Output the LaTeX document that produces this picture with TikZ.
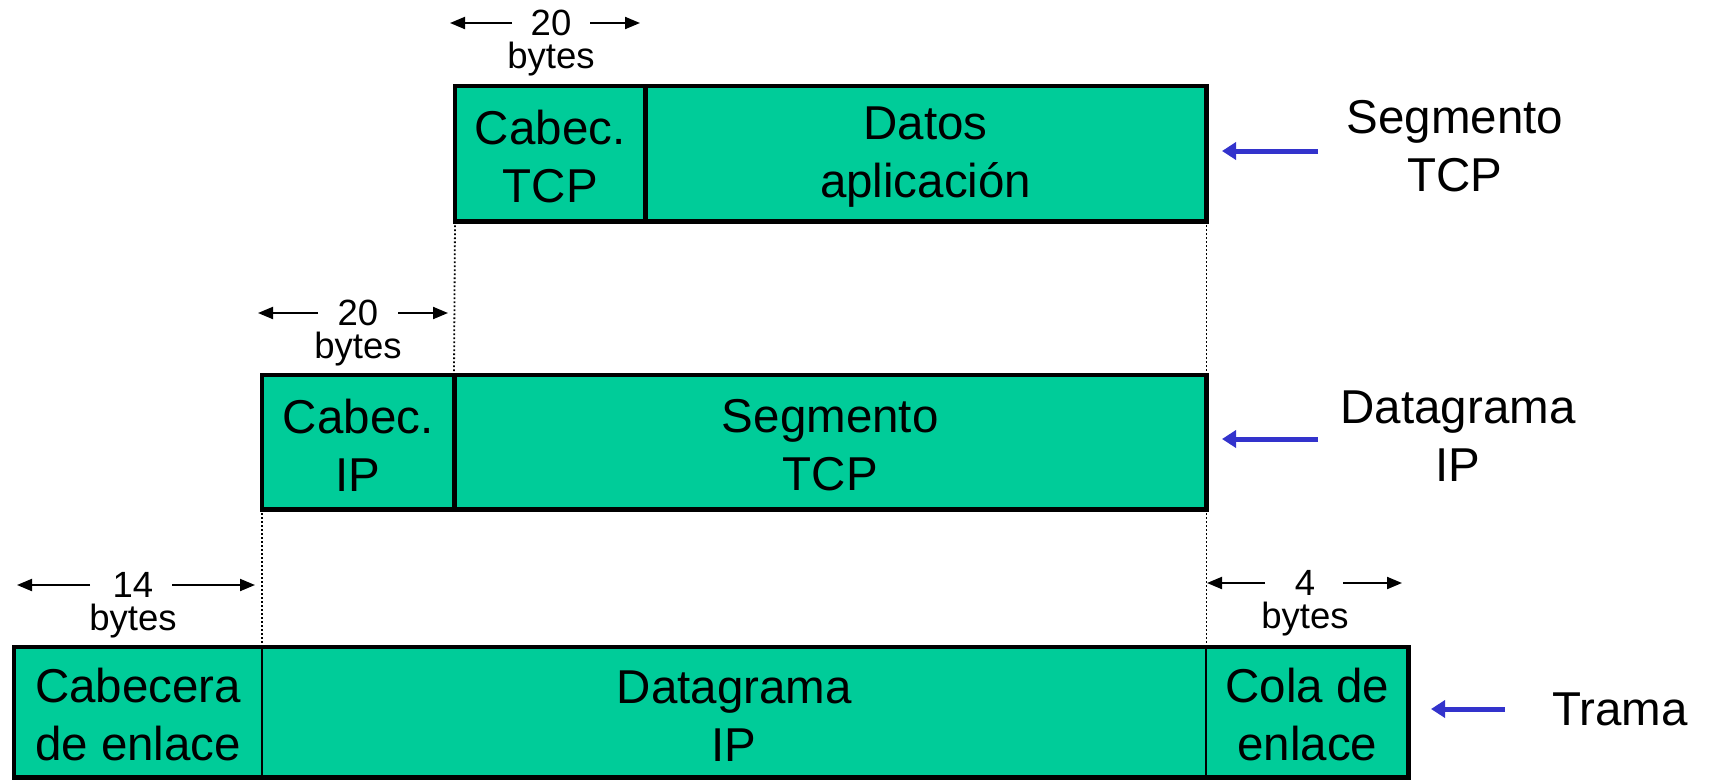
\documentclass[tikz,border=0pt]{standalone}
\usepackage{fontspec}
\setmainfont{Liberation Sans}
\usetikzlibrary{arrows.meta}
\definecolor{cellgreen}{RGB}{0,204,153}
\definecolor{arrowblue}{RGB}{51,51,204}
\newcommand\bigtxt{\fontsize{47.5pt}{58pt}\selectfont}
\newcommand\smalltxt{\fontsize{36.5pt}{33pt}\selectfont}
\newcommand\toplift{\rule{0pt}{40pt}}
\begin{document}
\begin{tikzpicture}[x=1pt,y=-1pt,
  cell/.style={fill=cellgreen, inner sep=0pt, anchor=north west, align=center, font=\bigtxt},
  border/.style={line width=4.5pt},
  thindiv/.style={line width=2pt},
  guide/.style={line width=1.8pt, dash pattern=on 1.8pt off 2.2pt},
  dimarrow/.style={line width=2pt, -{Triangle[length=15pt,width=12pt]}},
  bluearrow/.style={arrowblue, line width=5pt, -{Triangle[length=14pt,width=17pt]}},
  dimlabel/.style={font=\smalltxt, align=center, inner sep=0pt},
  sidelabel/.style={font=\bigtxt, align=center, inner sep=0pt}]
\useasboundingbox (0,0) rectangle (1712,780);

% cells
\node[cell, minimum width=190pt, minimum height=135pt] (tcph) at (455,86) {\toplift Cabec.\\TCP};
\node[cell, minimum width=561pt, minimum height=135pt] (tcpd) at (645,86) {\toplift Datos\\aplicaci\smash{ó}n};
\node[cell, minimum width=192pt, minimum height=134pt] (iph) at (262,375) {\toplift Cabec.\\IP};
\node[cell, minimum width=752pt, minimum height=134pt] (ipd) at (454,375) {\toplift Segmento\\TCP};
\node[cell, minimum width=248pt, minimum height=130pt] (fh) at (14,647) {\toplift Cabecera\\de enlace};
\node[cell, minimum width=944pt, minimum height=130pt] (fd) at (262,647) {\toplift Datagrama\\IP};
\node[cell, minimum width=202pt, minimum height=130pt] (ft) at (1206,647) {\toplift Cola de\\enlace};

% dotted guides
\draw[guide] (tcph.south west) -- (ipd.north west);
\draw[guide] (tcpd.south east) -- (ipd.north east);
\draw[guide] (iph.south west) -- (fd.north west);
\draw[guide] (ipd.south east) -- (fd.north east);

% borders
\draw[border] (tcph.north west) rectangle (tcpd.south east);
\draw[border] (tcph.north east) -- (tcph.south east);
\draw[border] (iph.north west) rectangle (ipd.south east);
\draw[border] (iph.north east) -- (iph.south east);
\draw[border] (fh.north west) rectangle (ft.south east);
\draw[thindiv] (fh.north east) -- (fh.south east);
\draw[thindiv] (fd.north east) -- (fd.south east);

% dimension labels
\node[dimlabel] (d1) at (551,43) {20\\bytes};
\coordinate (d1la) at (512,23); \coordinate (d1lb) at (450,23);
\coordinate (d1ra) at (590,23); \coordinate (d1rb) at (640,23);
\draw[dimarrow] (d1la) -- (d1lb);
\draw[dimarrow] (d1ra) -- (d1rb);

\node[dimlabel] (d2) at (358,333) {20\\bytes};
\coordinate (d2la) at (318,313); \coordinate (d2lb) at (258,313);
\coordinate (d2ra) at (398,313); \coordinate (d2rb) at (448,313);
\draw[dimarrow] (d2la) -- (d2lb);
\draw[dimarrow] (d2ra) -- (d2rb);

\node[dimlabel] (d3) at (133,605) {14\\bytes};
\coordinate (d3la) at (90,585); \coordinate (d3lb) at (17,585);
\coordinate (d3ra) at (172,585); \coordinate (d3rb) at (255,585);
\draw[dimarrow] (d3la) -- (d3lb);
\draw[dimarrow] (d3ra) -- (d3rb);

\node[dimlabel] (d4) at (1305,603) {4\\bytes};
\coordinate (d4la) at (1265,583); \coordinate (d4lb) at (1207,583);
\coordinate (d4ra) at (1343,583); \coordinate (d4rb) at (1402,583);
\draw[dimarrow] (d4la) -- (d4lb);
\draw[dimarrow] (d4ra) -- (d4rb);

% side labels
\node[sidelabel] (s1) at (1455,146) {Segmento\\TCP};
\node[sidelabel] (s2) at (1458,436) {Datagrama\\IP};
\node[sidelabel] (s3) at (1620,709) {Trama};
\coordinate (b1a) at (1318,151); \coordinate (b1b) at (1222,151);
\coordinate (b2a) at (1318,439); \coordinate (b2b) at (1222,439);
\coordinate (b3a) at (1505,709); \coordinate (b3b) at (1431,709);
\draw[bluearrow] (b1a) -- (b1b);
\draw[bluearrow] (b2a) -- (b2b);
\draw[bluearrow] (b3a) -- (b3b);
\end{tikzpicture}
\end{document}
